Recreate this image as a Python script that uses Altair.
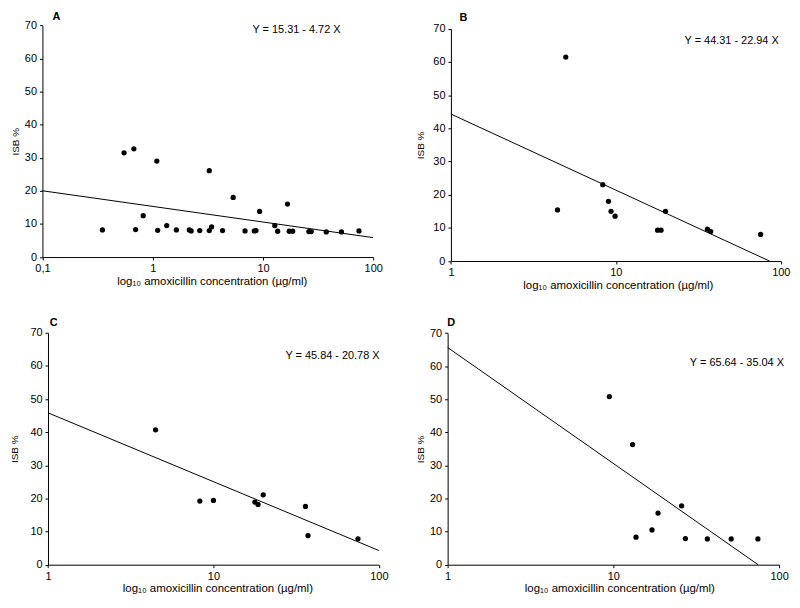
import math
import altair as alt
import pandas as pd

FONT = "Liberation Sans"

# ---- data ----
A_conc = [0.35, 0.55, 0.675, 0.70, 0.82, 1.09, 1.11, 1.34, 1.64, 2.15, 2.23, 2.67, 3.26, 3.26, 3.42,
          4.3, 5.37, 6.88, 8.35, 8.65, 9.33, 12.8, 13.6, 16.7, 17.3, 18.6, 26.1, 27.4, 37.5, 51.5, 74.3]
A_isb = [8.2, 31.5, 32.7, 8.3, 12.5, 29.0, 8.1, 9.5, 8.2, 8.2, 7.9, 8.0, 26.1, 8.0, 9.1,
         8.0, 18.0, 7.9, 7.9, 8.0, 13.8, 9.5, 7.8, 16.0, 7.8, 7.8, 7.7, 7.7, 7.6, 7.6, 7.9]

B_conc = [4.43, 4.97, 8.33, 9.02, 9.35, 9.89, 17.9, 18.8, 20.0, 35.9, 37.6, 75.5]
B_isb = [15.4, 61.5, 23.0, 18.0, 15.0, 13.5, 9.3, 9.3, 15.0, 9.6, 8.9, 8.0]

C_conc = [4.47, 8.28, 10.0, 17.8, 18.6, 20.0, 36.0, 37.3, 74.8]
C_isb = [40.7, 19.2, 19.4, 18.9, 18.2, 21.1, 17.6, 8.8, 7.8]

D_conc = [9.46, 13.06, 13.7, 17.1, 18.6, 25.8, 27.2, 36.9, 51.4, 74.5]
D_isb = [50.8, 36.3, 8.3, 10.5, 15.6, 17.8, 7.9, 7.8, 7.8, 7.8]

letters = ["A", "B", "C", "D"]
intercepts = [15.31, 44.31, 45.84, 65.64]
slopes = [4.72, 22.94, 20.78, 35.04]
equations = ["Y = 15.31 - 4.72 X", "Y = 44.31 - 22.94 X", "Y = 45.84 - 20.78 X", "Y = 65.64 - 35.04 X"]
x_min = [0.1, 1, 1, 1]
y_ticks = [0, 10, 20, 30, 40, 50, 60, 70]
Y_MAX = 70

X_TITLE = "log\u2081\u2080 amoxicillin concentration (\u00b5g/ml)"
Y_TITLE = "ISB %"

# ---- layout (pixels inside one shared view) ----
VIEW_W, VIEW_H = 790, 592
# panel frames: (left, right, y of 0, y of 70)
frames = [(34.7, 368.0, 248.7, 15.3),
          (446.3, 778.7, 252.7, 18.7),
          (40.3, 373.7, 558.7, 325.0),
          (443.0, 777.0, 558.7, 325.3)]
letter_xy = [(48.7, 6.5), (459.0, 8.0), (46.0, 315.0), (446.5, 315.0)]
eq_xy = [(290.7, 20.3), (729.2, 31.3), (327.0, 348.7), (734.5, 355.3)]
y_title_pad = [4.0, 7.6, 10.0, 4.3]
x_title_shift = [4, 2, 4, 6]


def panel(i, conc, isb):
    b0, b1, xmin = intercepts[i], slopes[i], x_min[i]
    left, right, y0, y70 = frames[i]
    x_ticks = [v for v in [0.1, 1, 10, 100] if v >= xmin]
    xscale = alt.Scale(type="log", domain=[xmin, 100], range=[left, right], nice=False)
    yscale = alt.Scale(domain=[0, Y_MAX], range=[y0, y70], nice=False, zero=True)
    xaxis = alt.Axis(values=x_ticks, title=X_TITLE, grid=False, orient="bottom",
                     offset=-(VIEW_H - y0),
                     labelExpr="datum.value < 0.5 ? '0,1' : format(datum.value, 'd')",
                     tickSize=3, labelPadding=3, titlePadding=1.5, labelFlush=False,
                     labelOverlap=False, titleX=(left + right) / 2 + x_title_shift[i])
    yaxis = alt.Axis(values=y_ticks, title=Y_TITLE, grid=False, orient="left",
                     offset=-left, tickSize=3, labelPadding=3,
                     titlePadding=y_title_pad[i], labelOverlap=False)

    pts = pd.DataFrame({"conc": conc, "isb": isb})
    x_end = min(100.0, 10 ** (b0 / b1))
    line_df = pd.DataFrame({
        "conc": [xmin, x_end],
        "isb": [b0 - b1 * math.log10(xmin), b0 - b1 * math.log10(x_end)],
    })
    enc_x = alt.X("conc:Q", scale=xscale, axis=xaxis)
    enc_y = alt.Y("isb:Q", scale=yscale, axis=yaxis)
    line = alt.Chart(line_df).mark_line(color="black", strokeWidth=1).encode(x=enc_x, y=enc_y)
    dots = alt.Chart(pts).mark_circle(color="black", opacity=1, size=28).encode(x=enc_x, y=enc_y)
    return alt.layer(line, dots)


def label(text, xy, bold, size=11):
    return alt.Chart(pd.DataFrame({"t": [text]})).mark_text(
        font=FONT, fontSize=size, fontWeight="bold" if bold else "normal", color="black",
        align="center", baseline="middle"
    ).encode(text="t:N", x=alt.value(xy[0]), y=alt.value(xy[1]))


panels = [panel(0, A_conc, A_isb), panel(1, B_conc, B_isb),
          panel(2, C_conc, C_isb), panel(3, D_conc, D_isb)]
texts = [label(letters[i], letter_xy[i], True) for i in range(4)] + \
        [label(equations[i], eq_xy[i], False) for i in range(4)]

chart = alt.layer(*panels, *texts).resolve_scale(
    x="independent", y="independent"
).resolve_axis(
    x="independent", y="independent"
).properties(
    width=VIEW_W, height=VIEW_H, padding={"left": 0, "top": 0, "right": 0, "bottom": 0}
).configure_view(
    stroke=None
).configure_axis(
    domainColor="black", tickColor="black", labelColor="black", titleColor="black",
    labelFont=FONT, titleFont=FONT, labelFontSize=11,
    titleFontWeight="normal", domainWidth=1, tickWidth=1
).configure_axisX(titleFontSize=11.5).configure_axisY(titleFontSize=10)

chart.save("out.html", embed_options={"renderer": "svg", "actions": False})
